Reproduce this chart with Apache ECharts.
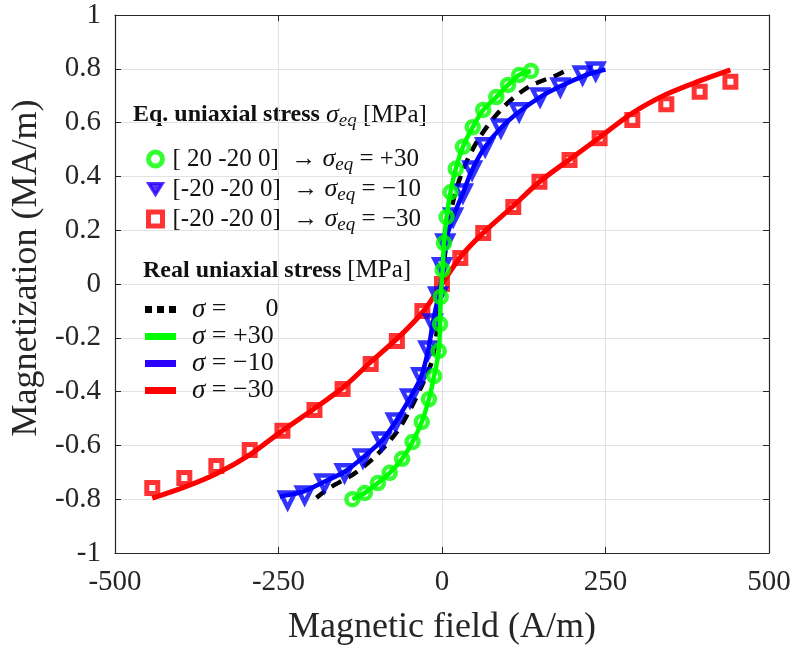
<!DOCTYPE html>
<html><head><meta charset="utf-8">
<script src="https://cdn.jsdelivr.net/npm/echarts@6/dist/echarts.min.js"></script>
<style>html,body{margin:0;padding:0;background:#fff}#c{width:795px;height:654px}</style>
</head><body><div id="c"></div>
<script>
// ---- data ----
// Eq. uniaxial stress +30 (green circles)
const eq30X = [-137,-118,-98,-80,-61,-45,-31,-20,-12,-5,-3,-2,1,3,7,13,21,32,47,63,83,101,118,136];
const eq30Y = [-0.80,-0.777,-0.74,-0.702,-0.65,-0.587,-0.513,-0.428,-0.342,-0.249,-0.149,-0.048,0.052,0.152,0.249,0.341,0.428,0.51,0.583,0.647,0.695,0.74,0.777,0.792];
// Eq. uniaxial stress -10 (blue triangles)
const eqm10X = [-236,-210,-180,-149,-121,-92,-71,-49,-32,-21,-14,-6,0,5,17,32,46,66,90,118,150,181,215,235];
const eqm10Y = [-0.803,-0.784,-0.74,-0.702,-0.647,-0.584,-0.513,-0.424,-0.345,-0.245,-0.145,-0.045,0.064,0.152,0.249,0.338,0.424,0.51,0.58,0.64,0.695,0.732,0.777,0.792];
// Eq. uniaxial stress -30 (red squares)
const eqm30X = [-443,-394,-345,-294,-244,-195,-152,-109,-69,-30,0,28,63,109,149,195,241,291,343,394,441];
const eqm30Y = [-0.758,-0.721,-0.677,-0.617,-0.546,-0.468,-0.39,-0.297,-0.212,-0.10,0,0.097,0.19,0.286,0.38,0.461,0.542,0.61,0.668,0.715,0.752];
// Real uniaxial stress curves
const s0X = [-192,-172,-133,-100,-69,-49,-29,-15,-5,0,5,15,32,58,94,132,176,192];
const s0Y = [-0.795,-0.758,-0.703,-0.636,-0.55,-0.468,-0.368,-0.283,-0.12,0,0.12,0.286,0.424,0.547,0.658,0.732,0.777,0.796];
const s30X = [-137,-118,-98,-80,-61,-45,-31,-20,-12,-5,-3,-2,1,3,7,13,21,32,47,63,83,101,118,136];
const s30Y = [-0.80,-0.777,-0.74,-0.702,-0.65,-0.587,-0.513,-0.428,-0.342,-0.249,-0.149,-0.048,0.052,0.152,0.249,0.341,0.428,0.51,0.583,0.647,0.695,0.74,0.777,0.792];
const sm10X = [-248,-236,-210,-180,-149,-121,-92,-71,-49,-32,-21,-14,-6,0,5,17,32,46,66,90,118,150,181,215,235,250];
const sm10Y = [-0.79,-0.785,-0.77,-0.735,-0.698,-0.645,-0.582,-0.512,-0.424,-0.345,-0.245,-0.145,-0.05,0.02,0.152,0.249,0.338,0.424,0.51,0.58,0.64,0.695,0.735,0.772,0.788,0.797];
const sm30X = [-443,-394,-345,-294,-244,-195,-149,-109,-63,-28,0,28,63,109,149,195,241,291,343,394,441];
const sm30Y = [-0.796,-0.755,-0.705,-0.635,-0.545,-0.463,-0.38,-0.29,-0.19,-0.1,0,0.1,0.19,0.29,0.38,0.463,0.545,0.635,0.705,0.755,0.796];

const xTicks = [-500,-250,0,250,500];
const yTicks = [-1,-0.8,-0.6,-0.4,-0.2,0,0.2,0.4,0.6,0.8,1];

const zip = (a,b) => a.map((v,i)=>[v,b[i]]);
const SERIF = 'Liberation Serif';
const AX = '#262626';

const legendLabels = {
  eq30:  '{p|}{t|[ 20 -20 0]  → }{i|σ}{s|eq}{t| = +30}',
  eqm10: '{p|}{t|[-20 -20 0]  → }{i|σ}{s|eq}{t| = −10}',
  eqm30: '{p|}{t|[-20 -20 0]  → }{i|σ}{s|eq}{t| = −30}',
  s0:   '{i|σ}{t| =      0}',
  s30:  '{i|σ}{t| = +30}',
  sm10: '{i|σ}{t| = −10}',
  sm30: '{i|σ}{t| = −30}'
};
const rich1 = {
  p:{width:5,lineHeight:31},
  t:{fontFamily:SERIF,fontSize:25,color:'#111',lineHeight:31,verticalAlign:'middle'},
  i:{fontFamily:SERIF,fontStyle:'italic',fontSize:26,color:'#111',lineHeight:31,verticalAlign:'middle'},
  s:{fontFamily:SERIF,fontStyle:'italic',fontSize:19,color:'#111',lineHeight:18,verticalAlign:'bottom'}
};
const rich2 = {
  t:{fontFamily:SERIF,fontSize:26,color:'#111',lineHeight:26,verticalAlign:'middle'},
  i:{fontFamily:SERIF,fontStyle:'italic',fontSize:27,color:'#111',lineHeight:26,verticalAlign:'middle',padding:[0,0,0,11]}
};

const axisCommon = {
  type:'value',
  axisLine:{show:true,onZero:false,lineStyle:{color:AX,width:1.2}},
  axisTick:{show:true,inside:true,length:6,lineStyle:{color:AX,width:1}},
  splitLine:{show:false}
};

const option = {
  animation:false,
  backgroundColor:'#fff',
  grid:{left:115,right:26,top:15,bottom:101,containLabel:false},
  xAxis:[
    Object.assign({}, axisCommon, {
      min:xTicks[0], max:xTicks[xTicks.length-1], interval:250, position:'bottom',
      axisLabel:{fontFamily:SERIF,fontSize:29,color:AX,margin:15},
      splitLine:{show:true,lineStyle:{color:'#e2e2e2',width:1}},
      name:'Magnetic field (A/m)', nameLocation:'middle', nameGap:57,
      nameTextStyle:{fontFamily:SERIF,fontSize:36,color:AX}
    }),
    Object.assign({}, axisCommon, {
      min:xTicks[0], max:xTicks[xTicks.length-1], interval:250, position:'top',
      axisLabel:{show:false}
    })
  ],
  yAxis:[
    Object.assign({}, axisCommon, {
      min:yTicks[0], max:yTicks[yTicks.length-1], interval:0.2, position:'left',
      axisLabel:{fontFamily:SERIF,fontSize:29,color:AX,margin:14,
        formatter:v=>String(Math.round(v*10)/10)},
      splitLine:{show:true,lineStyle:{color:'#e2e2e2',width:1}},
      name:'Magnetization (MA/m)', nameLocation:'middle', nameGap:66,
      nameTextStyle:{fontFamily:SERIF,fontSize:36,color:AX,padding:[0,0,0,32]}
    }),
    Object.assign({}, axisCommon, {
      min:yTicks[0], max:yTicks[yTicks.length-1], interval:0.2, position:'right',
      axisLabel:{show:false}
    })
  ],
  legend:[
    {
      data:[
        {name:'eq30', icon:'circle', itemStyle:{color:'rgba(0,0,0,0)',borderColor:'#00ff00',borderWidth:5}},
        {name:'eqm10', icon:'path://M0,0L20,0L10,16Z', itemStyle:{color:'#2a00ff',borderColor:'#2a00ff',borderWidth:3}},
        {name:'eqm30', icon:'rect', itemStyle:{color:'rgba(0,0,0,0)',borderColor:'#ff0000',borderWidth:5}}
      ],
      orient:'vertical', left:141, top:141, itemWidth:14, itemHeight:14, itemGap:1.5,
      selectedMode:false,
      formatter:n=>legendLabels[n],
      textStyle:{rich:rich1}
    },
    {
      data:[
        {name:'s0', icon:'path://M0,0h7v7h-7z M12,0h7v7h-7z M24,0h7v7h-7z', itemStyle:{color:'#000'}},
        {name:'s30', icon:'rect', itemStyle:{color:'#00ff00'}},
        {name:'sm10', icon:'rect', itemStyle:{color:'#2a00ff'}},
        {name:'sm30', icon:'rect', itemStyle:{color:'#ff0000'}}
      ],
      orient:'vertical', left:140, top:291, itemWidth:31, itemHeight:7, itemGap:0,
      selectedMode:false,
      formatter:n=>legendLabels[n],
      textStyle:{rich:rich2}
    }
  ],
  graphic:[
    {type:'text', left:133, top:102, silent:true,
     style:{text:'{b|Eq. uniaxial stress }{i|σ}{s|eq}{n| [MPa]}',
       rich:{
         b:{fontFamily:SERIF,fontWeight:'bold',fontSize:24,fill:'#111',lineHeight:30,verticalAlign:'middle'},
         i:{fontFamily:SERIF,fontStyle:'italic',fontSize:26,fill:'#111',lineHeight:30,verticalAlign:'middle'},
         s:{fontFamily:SERIF,fontStyle:'italic',fontSize:19,fill:'#111',lineHeight:18,verticalAlign:'bottom'},
         n:{fontFamily:SERIF,fontSize:25,fill:'#111',lineHeight:30,verticalAlign:'middle'}
       }}},
    {type:'text', left:143, top:258, silent:true,
     style:{text:'{b|Real uniaxial stress }{n|[MPa]}',
       rich:{
         b:{fontFamily:SERIF,fontWeight:'bold',fontSize:24,fill:'#111',lineHeight:30,verticalAlign:'middle'},
         n:{fontFamily:SERIF,fontSize:25,fill:'#111',lineHeight:30,verticalAlign:'middle'}
       }}}
  ],
  series:[
    {name:'sm30', type:'line', data:zip(sm30X,sm30Y), smooth:0.3, symbol:'none',
     lineStyle:{color:'#ff0000',width:5}, itemStyle:{color:'#ff0000'}, z:2},
    {name:'eqm30', type:'scatter', data:zip(eqm30X,eqm30Y), symbol:'rect', symbolSize:11,
     itemStyle:{color:'rgba(0,0,0,0)',borderColor:'#ff0000',borderWidth:5}, z:3},
    {name:'s0', type:'line', data:zip(s0X,s0Y), smooth:0.3, symbol:'none',
     lineStyle:{color:'#000',width:4.5,type:[11,8]}, itemStyle:{color:'#000'}, z:4},
    {name:'sm10', type:'line', data:zip(sm10X,sm10Y), smooth:0.3, symbol:'none',
     lineStyle:{color:'#0000ff',width:4.5}, itemStyle:{color:'#0000ff'}, z:5},
    {name:'eqm10', type:'scatter', data:zip(eqm10X,eqm10Y), symbol:'triangle', symbolRotate:180, symbolSize:15,
     itemStyle:{color:'rgba(0,0,0,0)',borderColor:'#0000ff',borderWidth:4.5}, z:6},
    {name:'s30', type:'line', data:zip(s30X,s30Y), smooth:0.3, symbol:'none',
     lineStyle:{color:'#00ff00',width:4.5}, itemStyle:{color:'#00ff00'}, z:7},
    {name:'eq30', type:'scatter', data:zip(eq30X,eq30Y), symbol:'circle', symbolSize:12,
     itemStyle:{color:'rgba(0,0,0,0)',borderColor:'#00ff00',borderWidth:4.5}, z:8}
  ]
};
const chart = echarts.init(document.getElementById('c'), null, {renderer:'canvas'});
chart.setOption(option);
</script></body></html>
